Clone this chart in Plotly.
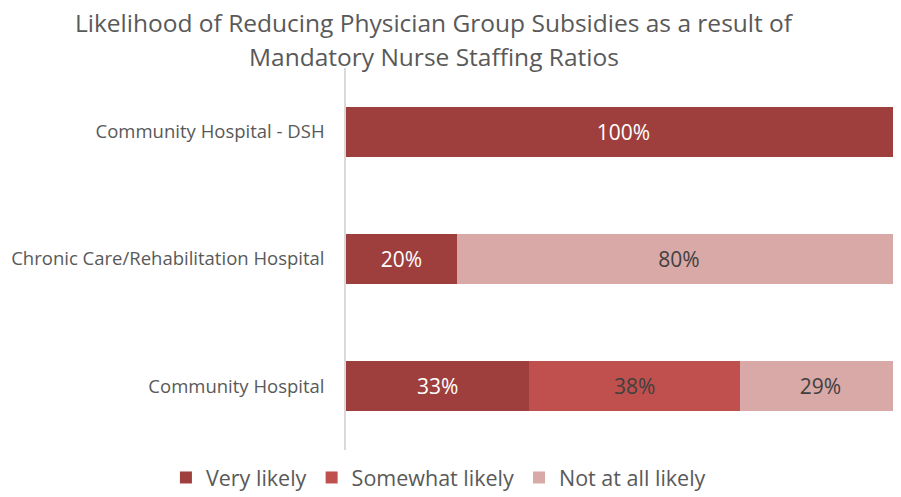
import plotly.graph_objects as go

categories = ["Community Hospital", "Chronic Care/Rehabilitation Hospital", "Community Hospital - DSH"]
series_names = ["Very likely", "Somewhat likely", "Not at all likely"]
very_likely = [33, 20, 100]
somewhat_likely = [38, 0, 0]
not_at_all_likely = [29, 80, 0]
title_lines = ["Likelihood of Reducing Physician Group Subsidies as a result of",
               "Mandatory Nurse Staffing Ratios"]

colors = ["#9E3F3D", "#C0504D", "#D9A9A8"]
text_colors = ["#FFFFFF", "#404040", "#404040"]

# page body has an 8px margin, so the figure is drawn offset by 8px
W, H = 893, 490
L, R, T, B = 338, 0, 60, 48

fig = go.Figure()
for name, vals, c, tc in zip(series_names, [very_likely, somewhat_likely, not_at_all_likely], colors, text_colors):
    fig.add_trace(go.Bar(
        y=categories, x=vals, name=name, orientation="h",
        marker=dict(color=c, line=dict(width=0)),
        text=[f"{v}%" if v else "" for v in vals],
        textposition="inside", insidetextanchor="middle",
        textfont=dict(color=tc, size=21, family="Open Sans"),
        hoverinfo="skip",
    ))

fig.update_layout(
    barmode="stack",
    bargap=0.606,
    width=W, height=H,
    margin=dict(l=L, r=R, t=T, b=B, pad=0),
    plot_bgcolor="white", paper_bgcolor="white",
    font=dict(family="Open Sans", color="#595959"),
    showlegend=True,
    legend=dict(orientation="h", xref="container", yref="container",
                x=0.482, xanchor="center", y=0.0, yanchor="bottom",
                font=dict(size=21.5, color="#595959"), itemwidth=30,
                traceorder="normal", tracegroupgap=0),
    xaxis=dict(range=[0, 100], visible=False, fixedrange=True),
    yaxis=dict(showline=True, linecolor="#D9D9D9", linewidth=1.5,
               ticks="", tickfont=dict(size=18.5, color="#595959"),
               ticklabelstandoff=16, showgrid=False),
)

plot_h = H - T - B
plot_w = W - L - R
for txt, yy in zip(title_lines, [15, 49]):
    fig.add_annotation(text=txt, showarrow=False, borderpad=0,
                       xref="paper", yref="paper",
                       x=(426 - L) / plot_w, xanchor="center",
                       y=(H - B - yy) / plot_h, yanchor="middle",
                       font=dict(size=24.5, color="#595959", family="Open Sans"))

fig.write_html("out.html")
